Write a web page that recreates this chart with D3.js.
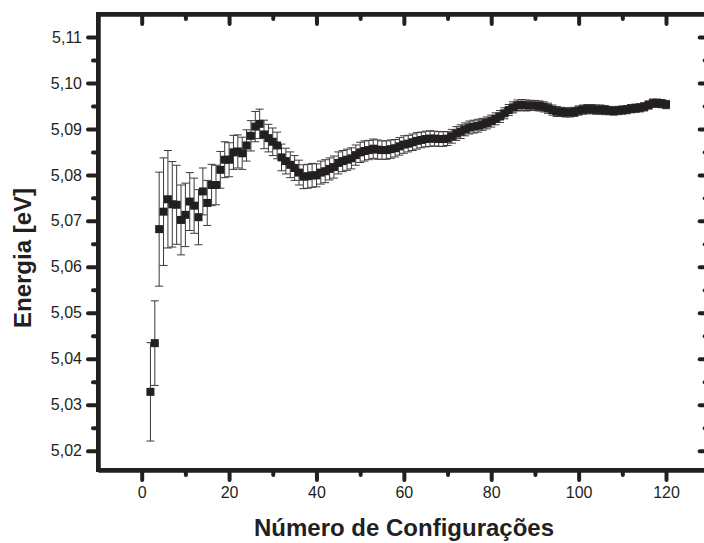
<!DOCTYPE html>
<html>
<head>
<meta charset="utf-8">
<script src="https://cdn.jsdelivr.net/npm/d3@7"></script>
<style>
  body { margin: 0; background: #fff; }
  svg { display: block; }
  .ax .tick text { font-family: "Liberation Sans", Arial, sans-serif; font-size: 16px; fill: #231f20; }
  .title { font-family: "Liberation Sans", Arial, sans-serif; font-weight: bold; font-size: 24px; fill: #231f20; }
</style>
</head>
<body>
<div id="chart"></div>
<script>
// configuration number (x)
var configs = [];
for (var c = 2; c <= 120; c++) configs.push(c);

// energy values [eV], x = 2..120
var energia = [
  5.0328, 5.0434, 5.0682, 5.0720, 5.0747, 5.0736, 5.0735, 5.0702, 5.0713, 5.0742,
  5.0733, 5.0708, 5.0764, 5.0739, 5.0778, 5.0778, 5.0811, 5.0833, 5.0833, 5.0849,
  5.0851, 5.0847, 5.0864, 5.0885, 5.0905, 5.0911, 5.0888, 5.0880, 5.0872, 5.0864,
  5.0838, 5.0830, 5.0822, 5.0815, 5.0805, 5.0796, 5.0797, 5.0799, 5.0799, 5.0805,
  5.0808, 5.0813, 5.0817, 5.0826, 5.0830, 5.0833, 5.0836, 5.0843, 5.0849, 5.0852,
  5.0854, 5.0857, 5.0855, 5.0854, 5.0854, 5.0856, 5.0858, 5.0862, 5.0866, 5.0868,
  5.0871, 5.0874, 5.0876, 5.0878, 5.0879, 5.0879, 5.0878, 5.0878, 5.0879, 5.0884,
  5.0890, 5.0894, 5.0899, 5.0903, 5.0905, 5.0907, 5.0910, 5.0913, 5.0917, 5.0922,
  5.0927, 5.0934, 5.0941, 5.0947, 5.0951, 5.0952, 5.0951, 5.0951, 5.0951, 5.0950,
  5.0948, 5.0945, 5.0941, 5.0938, 5.0937, 5.0936, 5.0936, 5.0937, 5.0940, 5.0942,
  5.0943, 5.0943, 5.0942, 5.0942, 5.0941, 5.0940, 5.0939, 5.0940, 5.0941, 5.0942,
  5.0944, 5.0945, 5.0946, 5.0948, 5.0952, 5.0956, 5.0956, 5.0955, 5.0953
];

// error bar half widths [eV]
var erro = [
  0.0107, 0.0092, 0.0124, 0.0117, 0.0106, 0.0093, 0.0086, 0.0076, 0.0069, 0.0063,
  0.0060, 0.0060, 0.0051, 0.0049, 0.0045, 0.0043, 0.0040, 0.0039, 0.0037, 0.0037,
  0.0036, 0.0035, 0.0034, 0.0033, 0.0033, 0.0032, 0.0031, 0.0030, 0.0030, 0.0029,
  0.0029, 0.0028, 0.0028, 0.0027, 0.0027, 0.0026, 0.0026, 0.0026, 0.0025, 0.0025,
  0.0025, 0.0024, 0.0024, 0.0024, 0.0023, 0.0023, 0.0023, 0.0022, 0.0022, 0.0022,
  0.0021, 0.0021, 0.0021, 0.0020, 0.0020, 0.0020, 0.0019, 0.0019, 0.0019, 0.0018,
  0.0018, 0.0018, 0.0017, 0.0017, 0.0017, 0.0016, 0.0016, 0.0016, 0.0015, 0.0015,
  0.0015, 0.0015, 0.0014, 0.0014, 0.0014, 0.0014, 0.0013, 0.0013, 0.0013, 0.0013,
  0.0013, 0.0012, 0.0012, 0.0012, 0.0012, 0.0012, 0.0012, 0.0011, 0.0011, 0.0011,
  0.0011, 0.0011, 0.0011, 0.0011, 0.0010, 0.0010, 0.0010, 0.0010, 0.0010, 0.0010,
  0.0010, 0.0010, 0.0010, 0.0010, 0.0010, 0.0009, 0.0009, 0.0009, 0.0009, 0.0009,
  0.0009, 0.0009, 0.0009, 0.0009, 0.0009, 0.0009, 0.0009, 0.0009, 0.0009
];

var xMajor = [0, 20, 40, 60, 80, 100, 120];
var xMinor = [10, 30, 50, 70, 90, 110];
var yMajor = [5.02, 5.03, 5.04, 5.05, 5.06, 5.07, 5.08, 5.09, 5.10, 5.11];
var yMinor = [5.025, 5.035, 5.045, 5.055, 5.065, 5.075, 5.085, 5.095, 5.105];

var svgWidth = 704;
var svgHeight = 543;

var margin = { top: 14, left: 98 };
var width = 611.7;
var height = 456;

var svg = d3.select("#chart")
  .append("svg")
  .attr("width", svgWidth)
  .attr("height", svgHeight);

var g = svg.append("g")
  .attr("transform", "translate(" + margin.left + "," + margin.top + ")");

var x = d3.scaleLinear().domain([-10, 130]).range([0, width]);
var y = d3.scaleLinear().domain([5.0158, 5.115]).range([height, 0]);

var data = configs.map(function(c, i) {
  return { x: c, y: energia[i], e: erro[i] };
});

var fmt = d3.format(".2f");
var yFmt = function(d) { return fmt(d).replace(".", ","); };

// error bars
var bars = g.append("g").attr("stroke", "#3a3a3a").attr("stroke-width", 1);
data.forEach(function(d) {
  var cx = x(d.x), y0 = y(d.y - d.e), y1 = y(d.y + d.e);
  bars.append("line").attr("x1", cx).attr("x2", cx).attr("y1", y0).attr("y2", y1);
  bars.append("line").attr("x1", cx - 4).attr("x2", cx + 4).attr("y1", y0).attr("y2", y0);
  bars.append("line").attr("x1", cx - 4).attr("x2", cx + 4).attr("y1", y1).attr("y2", y1);
});

// squares
g.append("g").selectAll("rect")
  .data(data)
  .enter()
  .append("rect")
  .attr("x", d => x(d.x) - 4)
  .attr("y", d => y(d.y) - 4)
  .attr("width", 8)
  .attr("height", 8)
  .attr("fill", "#231f20");

// heavy axis lines and round ticks
function thick(sel) {
  sel.selectAll(".domain")
    .attr("stroke", "#231f20")
    .attr("stroke-width", 4);
  sel.selectAll(".tick line")
    .attr("stroke", "#231f20")
    .attr("stroke-width", 4)
    .attr("stroke-linecap", "round");
}

// minor ticks first
g.append("g").attr("class", "ax").attr("transform", "translate(0," + height + ")")
  .call(d3.axisBottom(x).tickValues(xMinor).tickSize(5).tickFormat("").tickSizeOuter(0))
  .call(thick);
g.append("g").attr("class", "ax")
  .call(d3.axisTop(x).tickValues(xMinor).tickSize(-5).tickFormat("").tickSizeOuter(0))
  .call(thick);
g.append("g").attr("class", "ax")
  .call(d3.axisLeft(y).tickValues(yMinor).tickSize(5).tickFormat("").tickSizeOuter(0))
  .call(thick);
g.append("g").attr("class", "ax").attr("transform", "translate(" + width + ",0)")
  .call(d3.axisRight(y).tickValues(yMinor).tickSize(-5).tickFormat("").tickSizeOuter(0))
  .call(thick);

// major ticks
g.append("g").attr("class", "ax").attr("transform", "translate(0," + height + ")")
  .call(d3.axisBottom(x).tickValues(xMajor).tickSize(10).tickPadding(7).tickSizeOuter(0))
  .call(thick);
g.append("g").attr("class", "ax")
  .call(d3.axisTop(x).tickValues(xMajor).tickSize(-10).tickFormat("").tickSizeOuter(0))
  .call(thick);
g.append("g").attr("class", "ax")
  .call(d3.axisLeft(y).tickValues(yMajor).tickSize(10).tickPadding(6).tickFormat(yFmt).tickSizeOuter(0))
  .call(thick);
g.append("g").attr("class", "ax").attr("transform", "translate(" + width + ",0)")
  .call(d3.axisRight(y).tickValues(yMajor).tickSize(-10).tickFormat("").tickSizeOuter(0))
  .call(thick);

// frame on top of the domains
g.append("path")
  .attr("d", "M0,0H" + width + "V" + height + "H0Z")
  .attr("fill", "none")
  .attr("stroke", "#231f20")
  .attr("stroke-width", 4);

// titles
svg.append("text")
  .attr("class", "title")
  .attr("x", 404)
  .attr("y", 536)
  .attr("text-anchor", "middle")
  .text("Número de Configurações");

svg.append("text")
  .attr("class", "title")
  .attr("transform", "translate(31,258) rotate(-90)")
  .attr("text-anchor", "middle")
  .text("Energia [eV]");
</script>
</body>
</html>
